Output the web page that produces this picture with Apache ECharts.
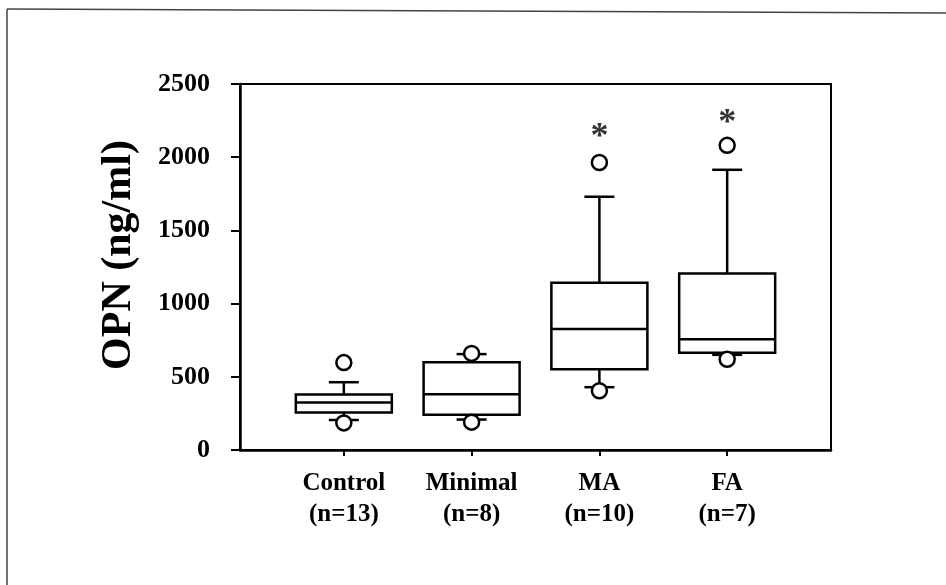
<!DOCTYPE html>
<html>
<head>
<meta charset="utf-8">
<script src="https://cdn.jsdelivr.net/npm/echarts@6/dist/echarts.min.js"></script>
<style>
html, body { margin: 0; padding: 0; background: #fff; }
#chart { width: 946px; height: 585px; }
</style>
</head>
<body>
<div id="chart"></div>
<script>
// 分组 + 箱线图数据
const categories = ['Control\n(n=13)', 'Minimal\n(n=8)', 'MA\n(n=10)', 'FA\n(n=7)'];
const boxLow = [205, 208, 429, 650];
const boxQ1 = [256, 240, 551, 665];
const boxMedian = [325, 380, 827, 757];
const boxQ3 = [379, 600, 1142, 1205];
const boxHigh = [463, 655, 1730, 1914];
// 离群点 [组序号, 数值]
const outliers = [[1, 597], [1, 185], [2, 660], [2, 190], [3, 1964], [3, 405], [4, 2081], [4, 620]];
// 显著性星号
const stars = [[3, 2183], [4, 2279]];
const yMin = 0;
const yMax = 2500;
const yStep = 500;

const serif = '"Liberation Serif", "DejaVu Serif", serif';

const boxData = categories.map((c, i) => [i + 1, boxLow[i], boxQ1[i], boxMedian[i], boxQ3[i], boxHigh[i]]);

function renderBox(params, api) {
    const x = api.value(0);
    const low = api.coord([x, api.value(1)]);
    const q1 = api.coord([x, api.value(2)]);
    const med = api.coord([x, api.value(3)]);
    const q3 = api.coord([x, api.value(4)]);
    const high = api.coord([x, api.value(5)]);
    const halfW = 48;
    const capHalf = 15;
    const cx = q1[0];
    const lineStyle = { stroke: '#000', lineWidth: 2.5, fill: null };
    return {
        type: 'group',
        children: [
            { type: 'line', shape: { x1: cx, y1: q3[1], x2: cx, y2: high[1] }, style: lineStyle },
            { type: 'line', shape: { x1: cx - capHalf, y1: high[1], x2: cx + capHalf, y2: high[1] }, style: lineStyle },
            { type: 'line', shape: { x1: cx, y1: q1[1], x2: cx, y2: low[1] }, style: lineStyle },
            { type: 'line', shape: { x1: cx - capHalf, y1: low[1], x2: cx + capHalf, y2: low[1] }, style: lineStyle },
            {
                type: 'rect',
                shape: { x: cx - halfW, y: q3[1], width: halfW * 2, height: q1[1] - q3[1] },
                style: { stroke: '#000', lineWidth: 2.5, fill: '#fff' }
            },
            { type: 'line', shape: { x1: cx - halfW, y1: med[1], x2: cx + halfW, y2: med[1] }, style: lineStyle }
        ]
    };
}

const chart = echarts.init(document.getElementById('chart'));
chart.setOption({
    animation: false,
    backgroundColor: '#fff',
    grid: {
        left: 240,
        right: 115,
        top: 84,
        bottom: 135,
        show: true,
        borderColor: '#000',
        borderWidth: 2
    },
    graphic: [
        // 外框（扫描件的边）
        { type: 'line', shape: { x1: 7, y1: 9, x2: 946, y2: 13 }, style: { stroke: '#444', lineWidth: 1.5 } },
        { type: 'line', shape: { x1: 7, y1: 9, x2: 7, y2: 585 }, style: { stroke: '#444', lineWidth: 1.5 } }
    ],
    xAxis: {
        type: 'value',
        min: 0.1875,
        max: 4.8125,
        splitLine: { show: false },
        axisLine: { show: true, lineStyle: { color: '#000', width: 2.5 } },
        axisTick: {
            show: true,
            customValues: [1, 2, 3, 4],
            length: 6,
            lineStyle: { color: '#000', width: 2 }
        },
        axisLabel: {
            customValues: [1, 2, 3, 4],
            formatter: (v) => categories[Math.round(v) - 1],
            margin: 18,
            color: '#000',
            fontFamily: serif,
            fontWeight: 'bold',
            fontSize: 25,
            lineHeight: 31
        }
    },
    yAxis: {
        type: 'value',
        min: yMin,
        max: yMax,
        interval: yStep,
        name: 'OPN (ng/ml)',
        nameLocation: 'middle',
        nameGap: 100,
        nameTextStyle: {
            color: '#000',
            fontFamily: serif,
            fontWeight: 'bold',
            fontSize: 42,
            padding: [0, 0, 0, 24]
        },
        splitLine: { show: false },
        axisLine: { show: true, lineStyle: { color: '#000', width: 2.5 } },
        axisTick: { show: true, length: 9, lineStyle: { color: '#000', width: 2 } },
        axisLabel: {
            margin: 30,
            formatter: (v) => String(v),
            color: '#000',
            fontFamily: serif,
            fontWeight: 'bold',
            fontSize: 26
        }
    },
    series: [
        {
            type: 'custom',
            renderItem: renderBox,
            encode: { x: 0, y: [1, 2, 3, 4, 5] },
            data: boxData,
            z: 2
        },
        {
            type: 'scatter',
            symbol: 'circle',
            symbolSize: 15,
            itemStyle: { color: '#fff', borderColor: '#000', borderWidth: 2.5, opacity: 1 },
            data: outliers,
            z: 3
        },
        {
            type: 'scatter',
            symbolSize: 0,
            label: {
                show: true,
                position: 'inside',
                formatter: '*',
                color: '#000',
                fontFamily: serif,
                fontWeight: 'bold',
                fontSize: 36,
                offset: [0, 7]
            },
            data: stars,
            z: 3
        }
    ]
});
</script>
</body>
</html>
